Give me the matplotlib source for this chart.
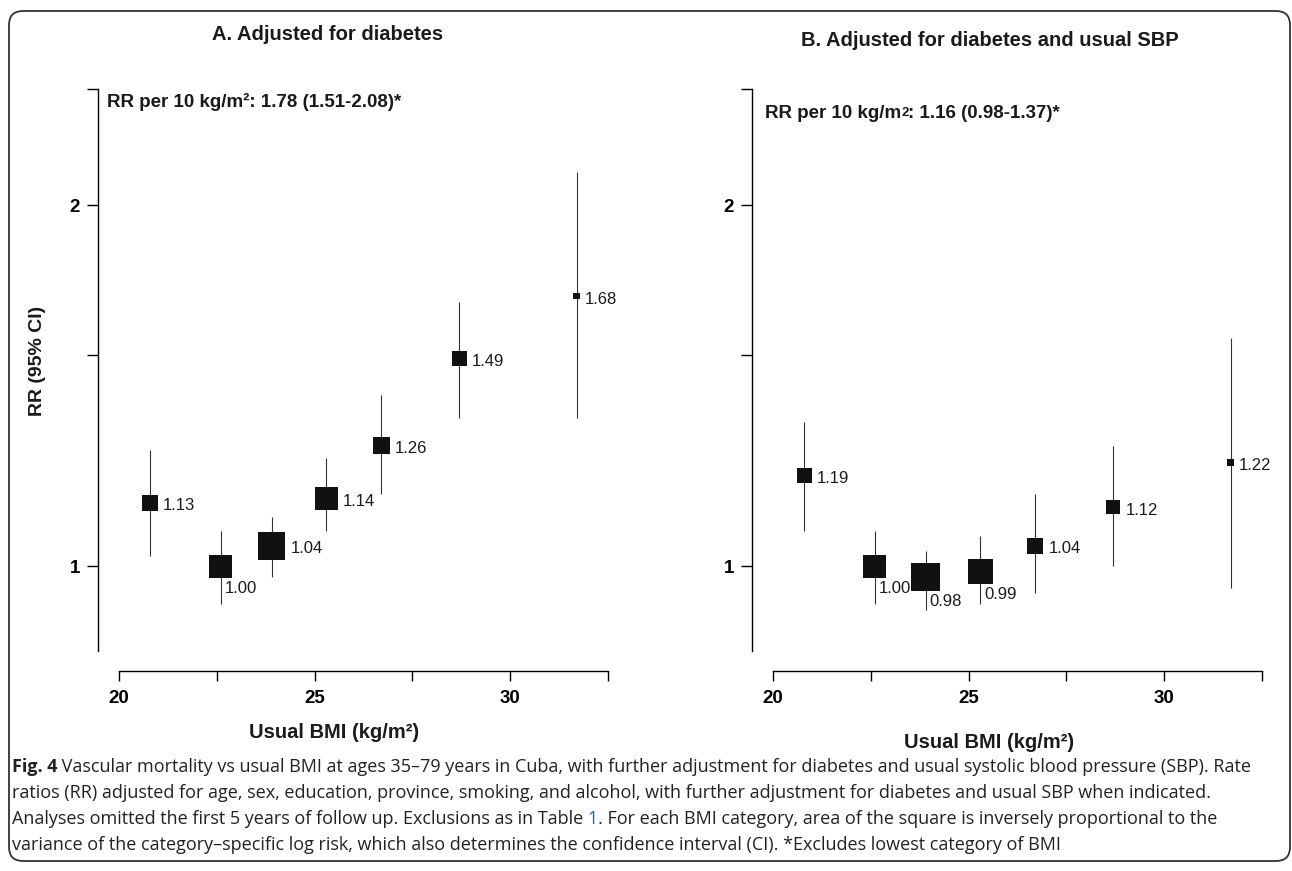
import numpy as np
import matplotlib
matplotlib.use("Agg")
import matplotlib.pyplot as plt
from matplotlib.patches import FancyBboxPatch
from matplotlib.transforms import IdentityTransform
from matplotlib.ticker import NullLocator

# BMI category midpoints (shared by both panels)
bmi = [20.8, 22.6, 23.9, 25.3, 26.7, 28.7, 31.7]

# A. adjusted for diabetes
rr_a = [1.13, 1.00, 1.04, 1.14, 1.26, 1.49, 1.68]
lo_a = [1.02, 0.93, 0.98, 1.07, 1.15, 1.33, 1.33]
hi_a = [1.25, 1.07, 1.10, 1.23, 1.39, 1.66, 2.13]

# B. adjusted for diabetes and usual SBP
rr_b = [1.19, 1.00, 0.98, 0.99, 1.04, 1.12, 1.22]
lo_b = [1.07, 0.93, 0.92, 0.93, 0.95, 1.00, 0.96]
hi_b = [1.32, 1.07, 1.03, 1.06, 1.15, 1.26, 1.55]

x_ticks = [20, 22.5, 25, 27.5, 30, 32.5]
x_ticklabels = ["20", "", "25", "", "30", ""]
y_ticks = [1, 1.5, 2, 2.5]
y_ticklabels = ["1", "", "2", ""]

title_a = "A. Adjusted for diabetes"
title_b = "B. Adjusted for diabetes and usual SBP"

caption = [
    " Vascular mortality vs usual BMI at ages 35\u201379 years in Cuba, with further adjustment for diabetes and usual systolic blood pressure (SBP). Rate",
    "ratios (RR) adjusted for age, sex, education, province, smoking, and alcohol, with further adjustment for diabetes and usual SBP when indicated.",
    "Analyses omitted the first 5 years of follow up. Exclusions as in Table ",
    "variance of the category\u2013specific log risk, which also determines the confidence interval (CI). *Excludes lowest category of BMI",
]
caption_3b = ". For each BMI category, area of the square is inversely proportional to the"

W, H = 1292, 871
plt.rcParams["font.family"] = ["Liberation Sans", "DejaVu Sans"]
plt.rcParams["axes.linewidth"] = 1.0
fig = plt.figure(figsize=(W / 100, H / 100), dpi=100)

INK = "#1a1a1a"


def px_box(x0, x1, ytop, ybot):
    return [x0 / W, 1 - ybot / H, (x1 - x0) / W, (ybot - ytop) / H]


def draw_panel(ax, rr, lo, hi, below, ax_left, ax_right, x20, x325):
    ppu = (x325 - x20) / 12.5
    ax.set_xlim(20 - (x20 - ax_left) / ppu, 32.5 + (ax_right - x325) / ppu)
    ax.set_yscale("log")
    ax.set_ylim(0.85, 2.5)

    rr = np.array(rr)
    lo = np.array(lo)
    hi = np.array(hi)
    # square side inversely proportional to the CI width (log scale)
    side = 3.2 / np.log(hi / lo)

    ax.vlines(bmi, lo, hi, color="#333333", lw=0.8, zorder=2)
    ax.scatter(bmi, rr, marker="s", s=(side * 0.72) ** 2, color="#111111",
               linewidths=0, zorder=3)

    for x, r, s, b in zip(bmi, rr, side, below):
        if b:
            ax.annotate(f"{r:.2f}", (x, r), xytext=(4, -(s / 2 + 3)),
                        textcoords="offset pixels", ha="left", va="top",
                        fontsize=12, color=INK)
        else:
            ax.annotate(f"{r:.2f}", (x, r), xytext=(s / 2 + 5, -3),
                        textcoords="offset pixels", ha="left", va="center",
                        fontsize=12, color=INK)

    for sp in ["top", "right"]:
        ax.spines[sp].set_visible(False)
    ax.spines["bottom"].set_position(("outward", 20 * 0.72))
    ax.spines["bottom"].set_bounds(20, 32.5)

    ax.set_xticks(x_ticks)
    ax.set_xticklabels(x_ticklabels)
    ax.yaxis.set_minor_locator(NullLocator())
    ax.set_yticks(y_ticks)
    ax.set_yticklabels(y_ticklabels)
    ax.tick_params(axis="x", length=7, width=1, pad=7, labelsize=13.5)
    ax.tick_params(axis="y", length=8, width=1, pad=5, labelsize=13.5)
    for lbl in ax.get_xticklabels() + ax.get_yticklabels():
        lbl.set_fontweight("bold")


ax1 = fig.add_axes(px_box(98, 620, 89, 651))
draw_panel(ax1, rr_a, lo_a, hi_a, [False, True, False, False, False, False, False],
           98, 620, 119, 608)

ax2 = fig.add_axes(px_box(752, 1275, 89, 651))
draw_panel(ax2, rr_b, lo_b, hi_b, [False, True, True, True, False, False, False],
           752, 1275, 773, 1262)

# 標題
fig.text(328 / W, 1 - 35 / H, title_a, ha="center", va="center",
         fontsize=14.5, fontweight="bold", color=INK)
fig.text(990 / W, 1 - 40 / H, title_b, ha="center", va="center",
         fontsize=14.5, fontweight="bold", color=INK)

# RR per 10 kg/m2 annotations
fig.text(107 / W, 1 - 102 / H, "RR per 10 kg/m\u00b2: 1.78 (1.51-2.08)*",
         ha="left", va="center", fontsize=13.5, fontweight="bold", color=INK)
t1 = fig.text(765 / W, 1 - 113 / H, "RR per 10 kg/m", ha="left", va="center",
              fontsize=13.5, fontweight="bold", color=INK)
t2 = plt.annotate("2", xy=(1, 0), xycoords=t1, xytext=(0, 2),
                  textcoords="offset points", ha="left", va="bottom",
                  fontsize=9.5, fontweight="bold", color=INK)
plt.annotate(": 1.16 (0.98-1.37)*", xy=(1, 0), xycoords=(t2, t1),
             ha="left", va="bottom", fontsize=13.5, fontweight="bold", color=INK)

# axis labels
fig.text(37 / W, 1 - 361 / H, "RR (95% CI)", rotation=90, ha="center",
         va="center", fontsize=14, fontweight="bold", color=INK)
fig.text(334 / W, 1 - 733 / H, "Usual BMI (kg/m\u00b2)", ha="center",
         va="center", fontsize=14.5, fontweight="bold", color=INK)
fig.text(989 / W, 1 - 743 / H, "Usual BMI (kg/m\u00b2)", ha="center",
         va="center", fontsize=14.5, fontweight="bold", color=INK)

# caption
cap_font = ["Open Sans", "DejaVu Sans"]
cap_kw = dict(fontsize=13, family=cap_font, color="#222222")
line_y = [776, 802, 828, 854]
fb = fig.text(12 / W, 1 - line_y[0] / H, "Fig. 4", ha="left", va="bottom",
              fontweight="bold", **cap_kw)
plt.annotate(caption[0], xy=(1, 0), xycoords=fb, ha="left", va="bottom", **cap_kw)
fig.text(12 / W, 1 - line_y[1] / H, caption[1], ha="left", va="bottom", **cap_kw)
c3 = fig.text(12 / W, 1 - line_y[2] / H, caption[2], ha="left", va="bottom", **cap_kw)
c3b = plt.annotate("1", xy=(1, 0), xycoords=c3, ha="left", va="bottom",
                   fontsize=13, family=cap_font, color="#1f5fb0")
plt.annotate(caption_3b, xy=(1, 0), xycoords=c3b, ha="left", va="bottom", **cap_kw)
fig.text(12 / W, 1 - line_y[3] / H, caption[3], ha="left", va="bottom", **cap_kw)

# rounded frame around the figure
frame = FancyBboxPatch((9, H - 861), 1281, 850,
                       boxstyle="round,pad=0,rounding_size=14",
                       transform=IdentityTransform(), fill=False,
                       edgecolor="#333333", linewidth=1.3)
fig.add_artist(frame)

fig.savefig("out.png", dpi=100)
